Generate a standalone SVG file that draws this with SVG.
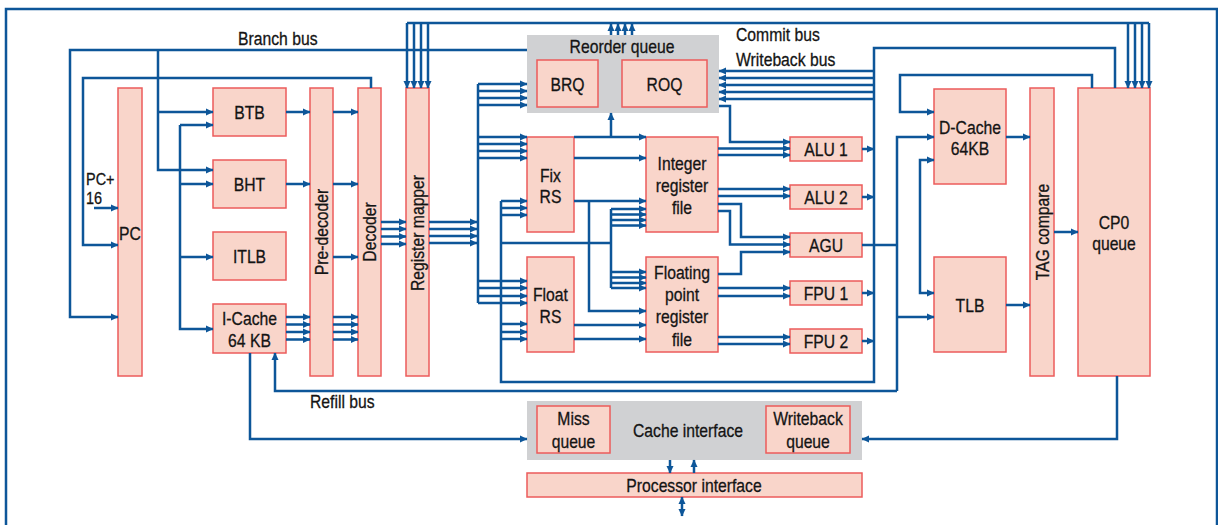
<svg xmlns="http://www.w3.org/2000/svg" width="1218" height="525" viewBox="0 0 1218 525">
<style>
.n{fill:#f9d5ca;stroke:#ec5b5b;stroke-width:1.5}
.g{fill:#d0d1d3}
.c{fill:none;stroke:#0d5699;stroke-width:2.5}
.a{marker-end:url(#ah)}
.b{marker-start:url(#ah);marker-end:url(#ah)}
text{font-family:'Liberation Sans',Arial,sans-serif;font-size:18.5px;fill:#141414;stroke:#141414;stroke-width:0.3}
.m{text-anchor:middle}
.s{font-size:17px}
</style>
<defs>
<marker id="ah" markerWidth="8" markerHeight="8" refX="7" refY="4" orient="auto-start-reverse" markerUnits="userSpaceOnUse"><path d="M0,0.5 L7.5,4 L0,7.5 z" fill="#0d5699"/></marker>
</defs>
<rect x="6" y="9" width="1211" height="540" fill="none" stroke="#0d5699" stroke-width="2.5"/>

<g id="reorder-queue">
<rect class="g" x="527" y="35" width="192" height="78"/>
<text class="m" transform="translate(622,53) scale(.85,1)">Reorder queue</text>
<rect class="n" x="537" y="60" width="61" height="47"/>
<text class="m" transform="translate(567.5,91) scale(.85,1)">BRQ</text>
<rect class="n" x="622" y="60" width="85" height="47"/>
<text class="m" transform="translate(664.5,91) scale(.85,1)">ROQ</text>
</g>
<g id="cache-interface">
<rect class="g" x="527" y="401" width="335" height="59"/>
<text class="m" transform="translate(688,437) scale(.85,1)">Cache interface</text>
<rect class="n" x="537" y="406" width="73" height="47"/>
<text class="m" transform="translate(573.5,425) scale(.85,1)">Miss</text>
<text class="m" transform="translate(573.5,448) scale(.85,1)">queue</text>
<rect class="n" x="766" y="406" width="84" height="47"/>
<text class="m" transform="translate(808,425) scale(.85,1)">Writeback</text>
<text class="m" transform="translate(808,448) scale(.85,1)">queue</text>
</g>
<g id="processor-interface">
<rect class="n" x="527" y="473" width="335" height="24"/>
<text class="m" transform="translate(694,492) scale(.85,1)">Processor interface</text>
</g>
<g id="pc"><rect class="n" x="118" y="88" width="24" height="288"/><text class="m" transform="translate(130,240) scale(.85,1)">PC</text></g>
<g id="btb"><rect class="n" x="213" y="88" width="73" height="48"/><text class="m" transform="translate(249.5,119) scale(.85,1)">BTB</text></g>
<g id="bht"><rect class="n" x="213" y="160" width="73" height="48"/><text class="m" transform="translate(249.5,191) scale(.85,1)">BHT</text></g>
<g id="itlb"><rect class="n" x="213" y="232" width="73" height="48"/><text class="m" transform="translate(249.5,263) scale(.85,1)">ITLB</text></g>
<g id="icache"><rect class="n" x="213" y="304" width="73" height="49"/><text class="m" transform="translate(249.5,325) scale(.85,1)">I-Cache</text><text class="m" transform="translate(249.5,347) scale(.85,1)">64 KB</text></g>
<g id="predecoder"><rect class="n" x="310" y="88" width="23" height="288"/><text class="m" transform="translate(328,232) rotate(-90) scale(.85,1)">Pre-decoder</text></g>
<g id="decoder"><rect class="n" x="358" y="88" width="23" height="288"/><text class="m" transform="translate(376,232) rotate(-90) scale(.85,1)">Decoder</text></g>
<g id="register-mapper"><rect class="n" x="406" y="88" width="23" height="288"/><text class="m" transform="translate(424,233) rotate(-90) scale(.85,1)">Register mapper</text></g>
<g id="fix-rs"><rect class="n" x="527" y="137" width="47" height="95"/><text class="m" transform="translate(550.5,181.5) scale(.85,1)">Fix</text><text class="m" transform="translate(550.5,202.5) scale(.85,1)">RS</text></g>
<g id="float-rs"><rect class="n" x="527" y="257" width="47" height="95"/><text class="m" transform="translate(550.5,301) scale(.85,1)">Float</text><text class="m" transform="translate(550.5,322.5) scale(.85,1)">RS</text></g>
<g id="int-rf"><rect class="n" x="646" y="137" width="72" height="95"/><text class="m" transform="translate(682,169.5) scale(.85,1)">Integer</text><text class="m" transform="translate(682,191.5) scale(.85,1)">register</text><text class="m" transform="translate(682,213.5) scale(.85,1)">file</text></g>
<g id="fp-rf"><rect class="n" x="646" y="257" width="72" height="95"/><text class="m" transform="translate(682,278.5) scale(.85,1)">Floating</text><text class="m" transform="translate(682,300.5) scale(.85,1)">point</text><text class="m" transform="translate(682,322.5) scale(.85,1)">register</text><text class="m" transform="translate(682,345.5) scale(.85,1)">file</text></g>
<g id="alu1"><rect class="n" x="790" y="137" width="72" height="24"/><text class="m" transform="translate(826,155.5) scale(.85,1)">ALU 1</text></g>
<g id="alu2"><rect class="n" x="790" y="185" width="72" height="24"/><text class="m" transform="translate(826,203.5) scale(.85,1)">ALU 2</text></g>
<g id="agu"><rect class="n" x="790" y="233" width="72" height="24"/><text class="m" transform="translate(826,251.5) scale(.85,1)">AGU</text></g>
<g id="fpu1"><rect class="n" x="790" y="281" width="72" height="24"/><text class="m" transform="translate(826,299.5) scale(.85,1)">FPU 1</text></g>
<g id="fpu2"><rect class="n" x="790" y="329" width="72" height="24"/><text class="m" transform="translate(826,347.5) scale(.85,1)">FPU 2</text></g>
<g id="dcache"><rect class="n" x="934" y="89" width="72" height="95"/><text class="m" transform="translate(970,133.5) scale(.85,1)">D-Cache</text><text class="m" transform="translate(970,155) scale(.85,1)">64KB</text></g>
<g id="tlb"><rect class="n" x="934" y="257" width="72" height="95"/><text class="m" transform="translate(970,311.5) scale(.85,1)">TLB</text></g>
<g id="tag-compare"><rect class="n" x="1030" y="88" width="24" height="288"/><text class="m" transform="translate(1048.5,232) rotate(-90) scale(.85,1)">TAG compare</text></g>
<g id="cp0-queue"><rect class="n" x="1078" y="88" width="72" height="288"/><text class="m" transform="translate(1114,229) scale(.85,1)">CP0</text><text class="m" transform="translate(1114,250) scale(.85,1)">queue</text></g>

<g id="labels">
<text transform="translate(238,45) scale(.85,1)">Branch bus</text>
<text transform="translate(736,41) scale(.85,1)">Commit bus</text>
<text transform="translate(736,66) scale(.85,1)">Writeback bus</text>
<text transform="translate(310,408) scale(.85,1)">Refill bus</text>
<text class="s" transform="translate(86,185) scale(.85,1)">PC+</text>
<text class="s" transform="translate(86,204) scale(.85,1)">16</text>
</g>

<g id="connectors">
<path class="c" d="M407,23 H1149"/>
<path class="c a" d="M407,23 V88"/><path class="c a" d="M414,23 V88"/><path class="c a" d="M421,23 V88"/><path class="c a" d="M428,23 V88"/>
<path class="c a" d="M1128,23 V88"/><path class="c a" d="M1135,23 V88"/><path class="c a" d="M1142,23 V88"/><path class="c a" d="M1149,23 V88"/>
<path class="c a" d="M611,35 V24"/><path class="c a" d="M618,35 V24"/><path class="c a" d="M625,35 V24"/><path class="c a" d="M632,35 V24"/>

<path class="c a" d="M527,50 H70 V317 H118"/>
<path class="c a" d="M158,50 V170 H213"/>
<path class="c a" d="M158,112 H213"/>
<path class="c a" d="M371,88 V78 H83 V245 H118"/>
<path class="c a" d="M94,208 H118"/>

<path class="c a" d="M180,125 V329 H213"/>
<path class="c a" d="M180,125 H213"/><path class="c a" d="M180,184 H213"/><path class="c a" d="M180,257 H213"/>

<path class="c a" d="M286,112 H310"/><path class="c a" d="M333,112 H358"/>
<path class="c a" d="M286,184 H310"/><path class="c a" d="M333,184 H358"/>
<path class="c a" d="M333,257 H358"/>
<path class="c a" d="M286,317 H310"/><path class="c a" d="M286,324.5 H310"/><path class="c a" d="M286,332 H310"/><path class="c a" d="M286,339.5 H310"/>
<path class="c a" d="M333,317 H358"/><path class="c a" d="M333,324.5 H358"/><path class="c a" d="M333,332 H358"/><path class="c a" d="M333,339.5 H358"/>
<path class="c a" d="M381,222 H406"/><path class="c a" d="M381,229 H406"/><path class="c a" d="M381,236.5 H406"/><path class="c a" d="M381,244 H406"/>
<path class="c a" d="M429,222 H477"/><path class="c a" d="M429,229 H477"/><path class="c a" d="M429,236 H477"/><path class="c a" d="M429,243 H477"/>

<path class="c" d="M478,84 V303"/>
<path class="c a" d="M478,84 H527"/><path class="c a" d="M478,91 H527"/><path class="c a" d="M478,98 H527"/><path class="c a" d="M478,105 H527"/>
<path class="c a" d="M478,137 H527"/><path class="c a" d="M478,144 H527"/><path class="c a" d="M478,151 H527"/><path class="c a" d="M478,158 H527"/>
<path class="c a" d="M478,281 H527"/><path class="c a" d="M478,288 H527"/><path class="c a" d="M478,296 H527"/><path class="c a" d="M478,303 H527"/>

<path class="c" d="M501,201 V382 H874 V48 H1115 V88"/>
<path class="c a" d="M501,201 H527"/><path class="c a" d="M501,208 H527"/><path class="c a" d="M501,215 H527"/>
<path class="c a" d="M501,324 H527"/><path class="c a" d="M501,332 H527"/><path class="c a" d="M501,339 H527"/>
<path class="c" d="M501,243 H611 M611,209 V288"/>
<path class="c a" d="M611,209 H646"/><path class="c a" d="M611,214.5 H646"/><path class="c a" d="M611,220 H646"/><path class="c a" d="M611,225.5 H646"/>
<path class="c a" d="M611,272 H646"/><path class="c a" d="M611,277.5 H646"/><path class="c a" d="M611,283 H646"/><path class="c a" d="M611,288 H646"/>

<path class="c a" d="M574,137 H646"/><path class="c a" d="M611,137 V113"/>
<path class="c a" d="M574,158 H646"/>
<path class="c a" d="M574,201 H646"/><path class="c a" d="M589,201 V311 H646"/>
<path class="c a" d="M574,325 H646"/><path class="c a" d="M574,339 H646"/>

<path class="c a" d="M719,106 H730 V142 H790"/>
<path class="c a" d="M718,148.5 H790"/><path class="c a" d="M718,155 H790"/>
<path class="c a" d="M718,189 H790"/><path class="c a" d="M718,196 H790"/>
<path class="c a" d="M718,204 H741 V237 H790"/><path class="c a" d="M718,211 H730 V244.5 H790"/>
<path class="c a" d="M718,274 H741 V252 H790"/>
<path class="c a" d="M718,288 H790"/><path class="c a" d="M718,296 H790"/>
<path class="c a" d="M718,337 H790"/><path class="c a" d="M718,344 H790"/>

<path class="c a" d="M862,149 H874"/><path class="c a" d="M862,197 H874"/><path class="c a" d="M862,293 H874"/><path class="c a" d="M862,341 H874"/>
<path class="c" d="M862,245 H897"/>
<path class="c a" d="M874,71 H719"/><path class="c a" d="M874,78 H719"/><path class="c a" d="M874,85 H719"/><path class="c a" d="M874,92 H719"/><path class="c a" d="M874,99 H719"/>

<path class="c a" d="M897,391 V137 H934"/>
<path class="c a" d="M897,317 H934"/>
<path class="c a" d="M897,391 H275 V353"/>
<path class="c a" d="M1092,88 V75 H900 V112 H934"/>
<path class="c a" d="M920,226 V160 H934"/><path class="c a" d="M920,226 V293 H934"/>
<path class="c a" d="M1006,137 H1030"/><path class="c a" d="M1006,305 H1030"/><path class="c a" d="M1054,232 H1078"/>

<path class="c a" d="M250,353 V439 H527"/>
<path class="c a" d="M1117,376 V439 H862"/>
<path class="c a" d="M670,460 V473"/><path class="c a" d="M694,473 V460"/>
<path class="c b" d="M682,497 V516"/>
</g>
</svg>
